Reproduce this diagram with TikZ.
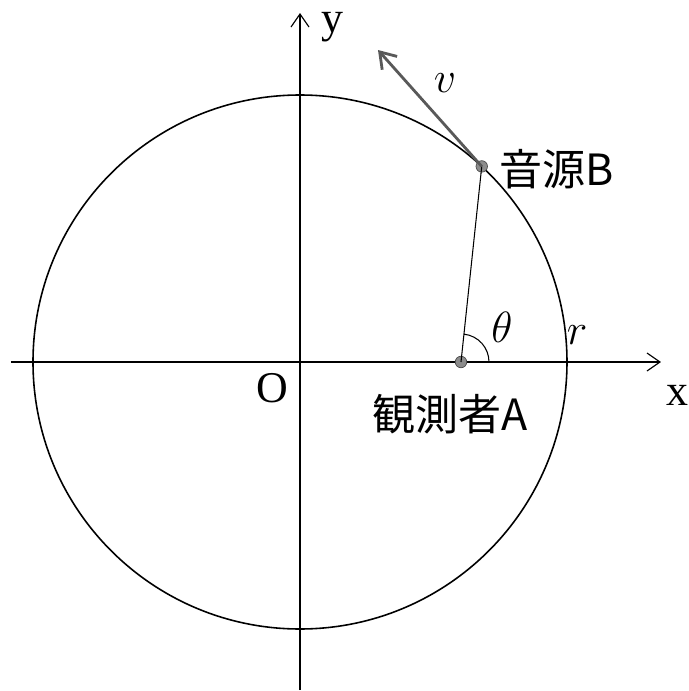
\documentclass[tikz,border=0pt]{standalone}
\usepackage{fontspec}
\setmainfont{Liberation Serif}
\newfontfamily\jp{Noto Sans CJK JP}
\usepackage{tikz}
\usetikzlibrary{arrows.meta,calc,positioning}

\begin{document}
\begin{tikzpicture}[
    x=0.02cm, y=0.02cm,
    axis/.style={
        % thin axes, open tip
        line width=0.65pt,
        -{Straight Barb[length=2.6mm,width=3.6mm]}},
    ring/.style={line width=0.9pt},
    point/.style={
        circle,
        inner sep=0pt,
        minimum size=2.3mm,
        fill=black!45,
        draw=black!70,
        line width=0.4pt},
    jtext/.style={font=\jp\fontsize{24.5}{24.5}\selectfont},
    ltext/.style={font=\fontsize{25}{25}\selectfont}
  ]
  \useasboundingbox (-300,-329) rectangle (389,362);
  % circle and axes
  \node (O) [coordinate] at (0,0) {};
  \draw [ring] (O) circle (267);
  \coordinate (xl) at (-289,0);
  \coordinate (xr) at (361,0);
  \coordinate (yb) at (0,-328);
  \coordinate (yt) at (0,349);
  \draw [axis] (xl) -- (xr);
  \draw [axis] (yb) -- (yt);
  % observer and source
  \node (A) [point] at (161,0) {};
  \node (B) [point] at (47.1:267) {};
  \coordinate (vtip) at (78,312);
  \draw [line width=0.6pt] (A.center) -- (B.center);
  \draw [line width=1.6pt,black!65,
    -{Straight Barb[length=3mm,width=4mm]}] (B.center) -- (vtip);
  \draw [line width=0.6pt] ($(A.center)+(28,0)$) arc [start angle=0,end angle=83.9,radius=28];
  % labels
  \node (Olabel) [ltext] at (-28,-26) {O};
  \node (xlabel) [ltext] at (377,-33) {x};
  \node (ylabel) [ltext] at (32,335) {y};
  \node (theta) [ltext] at (202,35) {$\theta$};
  \node (rlabel) [ltext] at (277,27) {$r$};
  \node (vlabel) [ltext] at (145,279) {$v$};
  \node (Blabel) [jtext] at (257,193) {音源B};
  \node (Alabel) [jtext] at (150,-52) {観測者A};
\end{tikzpicture}
\end{document}
